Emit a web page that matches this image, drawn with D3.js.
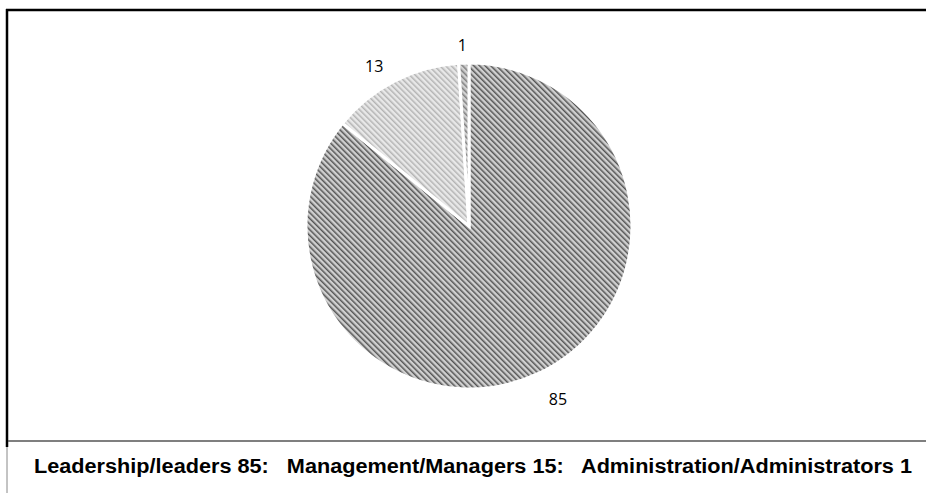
<!DOCTYPE html>
<html>
<head>
<meta charset="utf-8">
<script src="https://cdn.jsdelivr.net/npm/d3@7"></script>
<style>
  body { margin: 0; background: #fff; }
  svg { display: block; }
</style>
</head>
<body>
<div id="chart"></div>
<script>
// slice values (as labelled on the pie) and legend line
const sliceNames = ["Leadership/leaders", "Management/Managers", "Administration/Administrators"];
const sliceValues = [85, 13, 1];
const legendItems = ["Leadership/leaders 85:", "Management/Managers 15:", "Administration/Administrators 1"];

const width = 926, height = 493;
const cx = 469, cy = 226, radius = 163;

const svg = d3.select("#chart")
    .append("svg")
    .attr("width", width)
    .attr("height", height);

// hatch patterns, one per slice
const hatches = [
    { id: "hatch0", bg: "#d0d0d0", fg: "#555555" },
    { id: "hatch1", bg: "#e8e8e8", fg: "#b4b4b4" },
    { id: "hatch2", bg: "#d2d2d2", fg: "#7e7e7e" }
];
const defs = svg.append("defs");
hatches.forEach(h => {
    const p = defs.append("pattern")
        .attr("id", h.id)
        .attr("patternUnits", "userSpaceOnUse")
        .attr("width", 4)
        .attr("height", 4)
        .attr("patternTransform", "rotate(-45)");
    p.append("rect").attr("width", 4).attr("height", 4).attr("fill", h.bg);
    p.append("rect").attr("width", 1.5).attr("height", 4).attr("fill", h.fg);
});

// frame
svg.append("line")
    .attr("x1", 6).attr("x2", width).attr("y1", 10).attr("y2", 10)
    .attr("stroke", "#000").attr("stroke-width", 2.5);
svg.append("line")
    .attr("x1", 7).attr("x2", 7).attr("y1", 9).attr("y2", 447)
    .attr("stroke", "#000").attr("stroke-width", 2.5);
svg.append("line")
    .attr("x1", 7).attr("x2", 7).attr("y1", 447).attr("y2", height)
    .attr("stroke", "#888").attr("stroke-width", 1);
svg.append("line")
    .attr("x1", 8).attr("x2", width).attr("y1", 441).attr("y2", 441)
    .attr("stroke", "#555").attr("stroke-width", 1.5);

// pie
const pie = d3.pie().sort(null).value(d => d);
const arcs = pie(sliceValues);
const arc = d3.arc().innerRadius(0).outerRadius(radius);

const g = svg.append("g").attr("transform", `translate(${cx},${cy})`);

g.selectAll(".slice")
    .data(arcs)
    .join("path")
    .attr("class", "slice")
    .attr("d", arc)
    .attr("fill", (d, i) => `url(#${hatches[i].id})`)
    .attr("stroke", "#fff")
    .attr("stroke-width", 3)
    .attr("stroke-linejoin", "miter");

// data labels outside the pie
const labelArc = d3.arc().innerRadius(radius + 16).outerRadius(radius + 16);
g.selectAll(".label")
    .data(arcs)
    .join("text")
    .attr("class", "label")
    .attr("transform", d => {
        const [x, y] = labelArc.centroid(d);
        const a = (d.startAngle + d.endAngle) / 2;
        return `translate(${x + Math.sin(a) * 28},${y - Math.cos(a) * 7 + 5})`;
    })
    .attr("text-anchor", "middle")
    .attr("dominant-baseline", "central")
    .attr("font-family", "Open Sans, Noto Sans, sans-serif")
    .attr("font-size", 16)
    .attr("fill", "#000")
    .text(d => d.data);

// legend line under the chart
svg.append("text")
    .attr("x", 473)
    .attr("y", 466)
    .attr("text-anchor", "middle")
    .attr("dominant-baseline", "central")
    .attr("font-family", "Liberation Sans, Arial, sans-serif")
    .attr("font-weight", "bold")
    .attr("font-size", 19.5)
    .attr("textLength", 878)
    .attr("lengthAdjust", "spacingAndGlyphs")
    .style("white-space", "pre")
    .text(legendItems.join("   "));
</script>
</body>
</html>
